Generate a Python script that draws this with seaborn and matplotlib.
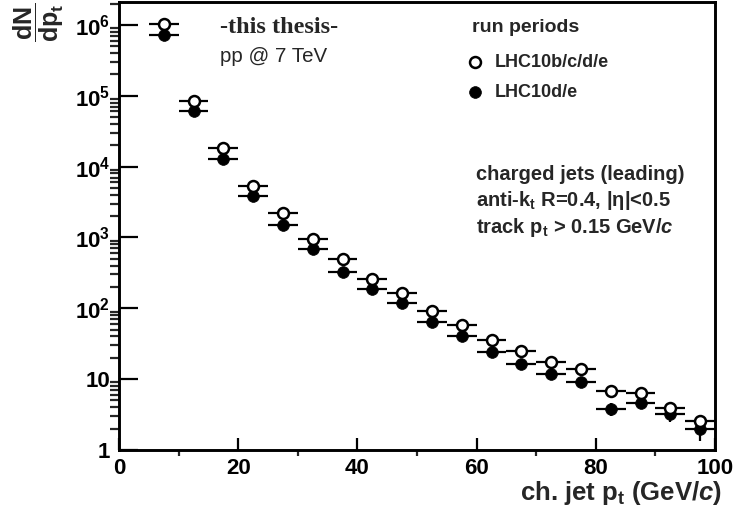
import numpy as np
import pandas as pd
import matplotlib
matplotlib.use("Agg")
import matplotlib.pyplot as plt
from matplotlib.ticker import FixedLocator, FuncFormatter, NullFormatter
import seaborn as sns

# ---- data ----
pt_centers = [7.5, 12.5, 17.5, 22.5, 27.5, 32.5, 37.5, 42.5, 47.5, 52.5,
              57.5, 62.5, 67.5, 72.5, 77.5, 82.5, 87.5, 92.5, 97.5]
bin_half_width = 2.5
lhc10bcde = [1.02e6, 8.5e4, 1.8e4, 5.4e3, 2.2e3, 950, 490, 255, 163, 91,
             59, 35.5, 24.6, 17.4, 13.8, 6.8, 6.3, 3.9, 2.6]
lhc10bcde_err = [0, 0, 0, 0, 0, 0, 0, 0, 0, 0,
                 0, 0, 0, 0, 0.3, 0.35, 0.35, 0.4, 0.5]
lhc10de = [7.2e5, 6.0e4, 1.26e4, 3.8e3, 1.5e3, 680, 330, 185, 117, 63,
           40, 24, 16.3, 12, 9.1, 3.8, 4.6, 3.2, 1.95]
lhc10de_err = [0, 0, 0, 0, 0, 0, 0, 0, 0, 0,
               0, 0, 0, 0, 0.4, 0.8, 0.5, 0.7, 0.6]
labels = ["LHC10b/c/d/e", "LHC10d/e"]
x_major_ticks = [0, 20, 40, 60, 80, 100]
x_minor_ticks = [10, 30, 50, 70, 90]
y_decades = [0, 1, 2, 3, 4, 5, 6]

df = pd.concat([
    pd.DataFrame({"pt": pt_centers, "val": lhc10bcde, "err": lhc10bcde_err, "period": labels[0]}),
    pd.DataFrame({"pt": pt_centers, "val": lhc10de, "err": lhc10de_err, "period": labels[1]}),
])

sns.set_theme(style="ticks")
plt.rcParams["font.family"] = ["Liberation Sans", "DejaVu Sans"]
plt.rcParams["font.weight"] = "bold"
plt.rcParams["mathtext.fontset"] = "custom"
plt.rcParams["mathtext.rm"] = "Liberation Sans:bold"
plt.rcParams["mathtext.bf"] = "Liberation Sans:bold"
plt.rcParams["mathtext.it"] = "Liberation Sans:bold:italic"
plt.rcParams["mathtext.default"] = "rm"

fig = plt.figure(figsize=(7.38, 5.13), dpi=100)
ax = fig.add_axes([119 / 738, 1 - 450 / 513, 596 / 738, 448 / 513])

styles = {
    labels[0]: dict(facecolor="white", edgecolor="black", linewidth=1.8, s=62, zorder=4),
    labels[1]: dict(facecolor="black", edgecolor="black", linewidth=0.5, s=72, zorder=3),
}
for per in labels:
    sub = df[df["period"] == per]
    ax.errorbar(sub["pt"], sub["val"], xerr=bin_half_width, yerr=sub["err"],
                fmt="none", ecolor="black", elinewidth=1.6, capsize=0, zorder=2)
    sns.scatterplot(data=sub, x="pt", y="val", marker="o", ax=ax, label=per,
                    **styles[per])

ax.set_yscale("log")
ax.set_xlim(0, 100)
ax.set_ylim(1, 2.1e6)

# ticks
ymaj = [10.0 ** e for e in y_decades]
ymin = [m * 10.0 ** e for e in y_decades for m in range(2, 10) if m * 10.0 ** e <= 2.1e6]
ax.xaxis.set_major_locator(FixedLocator(x_major_ticks))
ax.xaxis.set_minor_locator(FixedLocator(x_minor_ticks))
ax.yaxis.set_major_locator(FixedLocator(ymaj))
ax.yaxis.set_minor_locator(FixedLocator(ymin))
ax.yaxis.set_minor_formatter(NullFormatter())


def yfmt(v, pos):
    e = int(round(np.log10(v)))
    if e == 0:
        return "1"
    if e == 1:
        return "10"
    return r"$10^{%d}$" % e


ax.yaxis.set_major_formatter(FuncFormatter(yfmt))
ax.tick_params(axis="both", direction="in", width=1.6, colors="black",
               labelsize=16, top=False, right=False)
ax.tick_params(axis="y", which="major", length=13.5, pad=6.5)
ax.tick_params(axis="y", which="minor", length=6.8, width=1.6)
ax.tick_params(axis="x", which="major", length=8.5, pad=5.5)
ax.tick_params(axis="x", which="minor", length=4.5, width=1.6)
for lab in ax.get_xticklabels() + ax.get_yticklabels():
    lab.set_fontweight("bold")
for sp in ax.spines.values():
    sp.set_visible(True)
    sp.set_linewidth(2.1)
    sp.set_color("black")

ax.set_xlabel("")
ax.set_ylabel("")
ax.grid(False)

# axis titles
fig.text(722 / 738, 1 - 500 / 513, r"ch. jet p$_{t}$ (GeV/$\mathit{c}$)",
         ha="right", va="baseline", fontsize=18.5, fontweight="bold")
fig.text(39 / 738, 1 - 3 / 513, r"$\dfrac{dN}{dp_{t}}$", rotation=90,
         ha="center", va="top", fontsize=18)

# legend
leg = ax.legend(loc="upper left", bbox_to_anchor=((468 - 119) / 596, (450 - 54) / 448),
                frameon=False, fontsize=13, borderpad=0, borderaxespad=0,
                handlelength=0.8, handletextpad=0.7, labelspacing=0.72, markerscale=1.0)
for t in leg.get_texts():
    t.set_fontweight("bold")


def axtext(px, py, s, **kw):
    ax.text((px - 119) / 596, (450 - py) / 448, s, transform=ax.transAxes, **kw)


axtext(472, 32, "run periods", fontweight="bold", fontsize=14, va="baseline", ha="left")
axtext(220, 33, "-this thesis-", family=["Liberation Serif"], fontweight="bold",
       fontsize=17.5, va="baseline", ha="left")
axtext(220, 62, "pp @ 7 TeV", fontweight="normal", fontsize=14.8, va="baseline", ha="left")
axtext(476, 180, "charged jets (leading)", fontweight="bold", fontsize=14.5, va="baseline")
axtext(476, 206, r"anti-k$_{t}$ R=0.4, |η|<0.5", fontweight="bold", fontsize=14.5, va="baseline")
axtext(476, 233, r"track p$_{t}$ > 0.15 GeV/$\mathit{c}$", fontweight="bold", fontsize=14.5, va="baseline")

fig.savefig("out.png", dpi=100, facecolor="white")
